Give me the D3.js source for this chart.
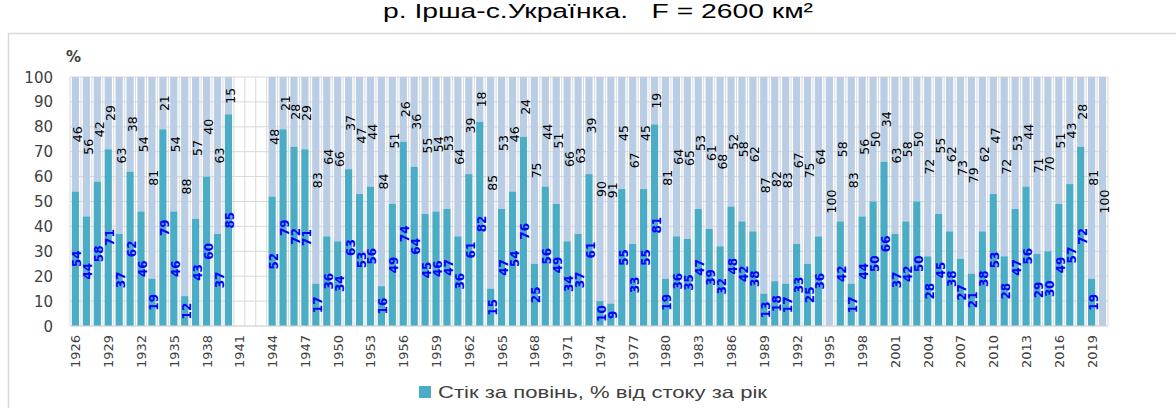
<!DOCTYPE html>
<html><head><meta charset="utf-8">
<script src="https://cdn.jsdelivr.net/npm/d3@7"></script>
<style>body{margin:0;background:#fff}svg{display:block}text{white-space:pre}</style>
</head><body>
<svg id="c" width="1176" height="408"></svg>
<script>
const years = d3.range(1926, 2021);
const floodShare = [54,44,58,71,37,62,46,19,79,46,12,43,60,37,85,
  null,null,null,
  52,79,72,71,17,36,34,63,53,56,16,49,74,64,45,46,47,36,61,82,15,47,54,76,25,56,49,34,37,61,10,9,55,33,55,81,
  19,36,35,47,39,32,48,42,38,13,18,17,33,25,36,0,42,17,44,50,66,37,42,50,28,45,38,27,21,38,53,28,47,56,29,30,49,57,72,19,0];
const yTicks = [0,10,20,30,40,50,60,70,80,90,100];
const xTickYears = d3.range(1926, 2020, 3);
const titleRiver = "р. Ірша-с.Українка.";
const titleArea = "   F = 2600 км²";
const legendLabel = "Стік за повінь, % від стоку за рік";

const data = years.map((y,i)=>({year:y, v:floodShare[i]}));
const svg = d3.select("#c");
const L=70,R=1108,T=77,B=326;
const x = d3.scaleBand().domain(years).range([L,R]).paddingInner(0.34).paddingOuter(0.17);
const y = d3.scaleLinear().domain([0,100]).range([B,T]);

// outer border
svg.append("rect").attr("x",8.5).attr("y",33.5).attr("width",1200).attr("height",420)
  .attr("fill","none").attr("stroke","#d9d9d9").attr("stroke-width",1.5);

const tt = svg.append("text").attr("y",18)
  .attr("font-family","Liberation Sans, Arial").attr("font-size",20.5).attr("fill","#000");
tt.append("tspan").attr("x",383).attr("textLength",245).attr("lengthAdjust","spacingAndGlyphs").text(titleRiver);
tt.append("tspan").attr("x",628).attr("textLength",185).attr("lengthAdjust","spacingAndGlyphs").text(titleArea);

// gridlines
svg.append("g").selectAll("line").data(yTicks).join("line")
  .attr("x1",L).attr("x2",R).attr("y1",d=>y(d)).attr("y2",d=>y(d))
  .attr("stroke","#d9d9d9").attr("stroke-width",1);
svg.append("g").selectAll("line").data(d3.range(years.length+1)).join("line")
  .attr("x1",i=>L+i*(R-L)/years.length).attr("x2",i=>L+i*(R-L)/years.length)
  .attr("y1",T).attr("y2",B).attr("stroke","#d9d9d9").attr("stroke-width",1);

const valid = data.filter(d=>d.v!==null);
// remainder (light)
svg.append("g").selectAll("rect").data(valid).join("rect")
  .attr("x",d=>x(d.year)).attr("width",x.bandwidth())
  .attr("y",y(100)).attr("height",d=>y(d.v)-y(100)).attr("fill","#b9cde5");
// flood share
svg.append("g").selectAll("rect").data(valid).join("rect")
  .attr("x",d=>x(d.year)).attr("width",x.bandwidth())
  .attr("y",d=>y(d.v)).attr("height",d=>y(0)-y(d.v)).attr("fill","#4bacc6");

// labels
svg.append("g").selectAll("text").data(valid.filter(d=>d.v>0)).join("text")
  .attr("transform",d=>`translate(${x(d.year)+x.bandwidth()/2+6},${y(d.v/2)}) rotate(-90)`)
  .attr("text-anchor","middle").attr("font-family","DejaVu Sans").attr("font-weight","bold")
  .attr("font-size",12).attr("fill","#0000ff").text(d=>d.v);
svg.append("g").selectAll("text").data(valid.filter(d=>d.v<100)).join("text")
  .attr("transform",d=>`translate(${x(d.year)+x.bandwidth()/2+6.5},${y((100+d.v)/2)}) rotate(-90)`)
  .attr("text-anchor","middle").attr("font-family","DejaVu Sans")
  .attr("font-size",12.5).attr("fill","#000").text(d=>100-d.v);

// axes
svg.append("line").attr("x1",L).attr("x2",R).attr("y1",B).attr("y2",B).attr("stroke","#d9d9d9");
svg.append("g").selectAll("text").data(yTicks).join("text")
  .attr("x",53).attr("y",d=>y(d)+5.5).attr("text-anchor","end")
  .attr("font-family","DejaVu Sans").attr("font-size",15).attr("fill","#404040").text(d=>d);
svg.append("text").attr("x",66).attr("y",62).attr("font-family","DejaVu Sans")
  .attr("font-weight","bold").attr("font-size",15).attr("fill","#404040").text("%");
svg.append("g").selectAll("text").data(xTickYears).join("text")
  .attr("transform",d=>`translate(${x(d)+x.bandwidth()/2+5},${B+9}) rotate(-90)`)
  .attr("text-anchor","end").attr("font-family","DejaVu Sans").attr("font-size",13)
  .attr("fill","#404040").text(d=>d);

// legend
svg.append("rect").attr("x",419).attr("y",386).attr("width",12).attr("height",12).attr("fill","#4bacc6");
svg.append("text").attr("x",438).attr("y",398).attr("font-family","Liberation Sans, Arial")
  .attr("font-size",16.5).attr("fill","#404040")
  .attr("textLength",329).attr("lengthAdjust","spacingAndGlyphs").text(legendLabel);
</script>
</body></html>
